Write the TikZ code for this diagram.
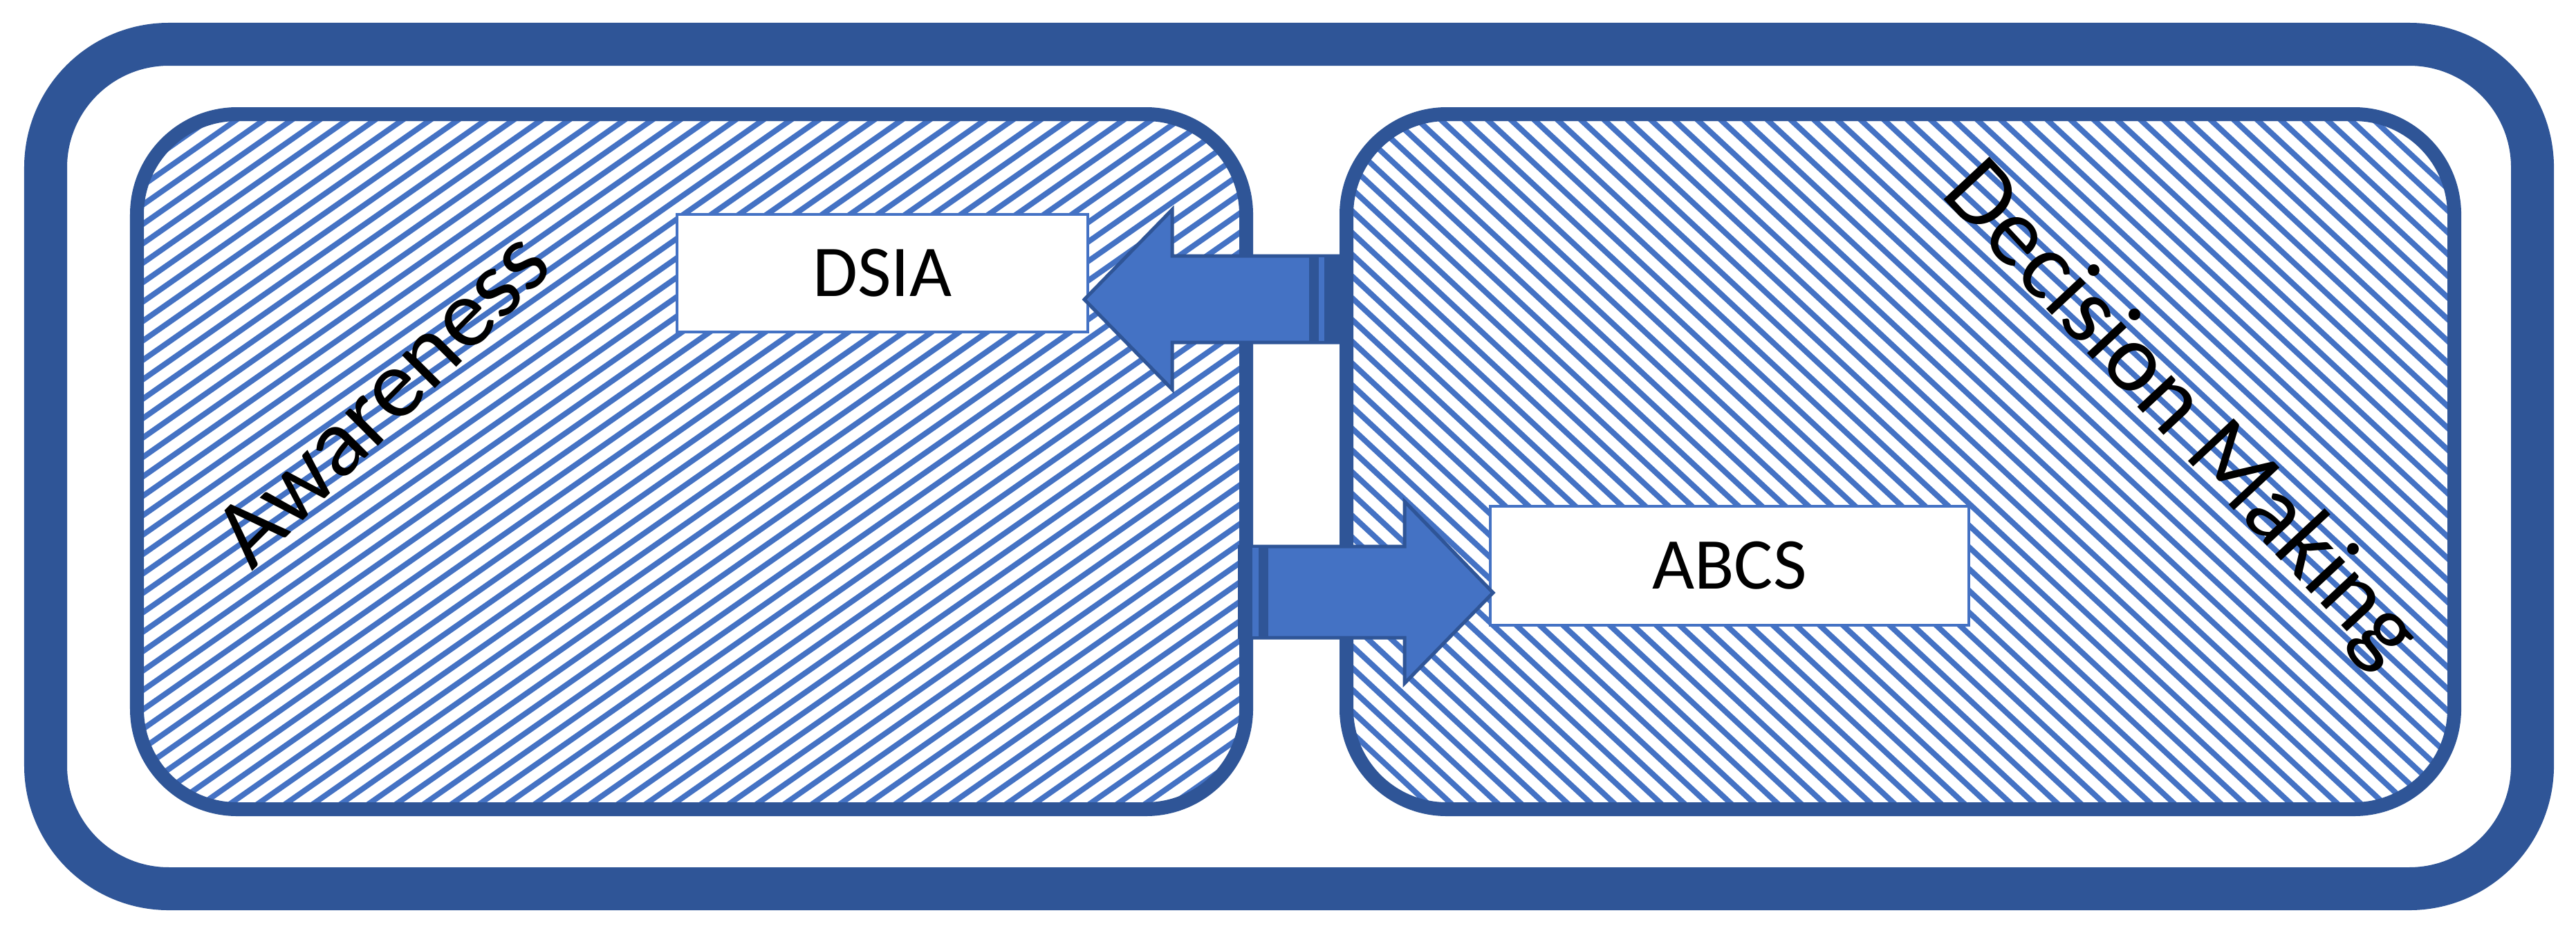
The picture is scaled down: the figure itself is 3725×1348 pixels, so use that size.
\documentclass[tikz,border=0pt]{standalone}
\usepackage{fontspec}
\setmainfont{Carlito}
\definecolor{dkblue}{HTML}{2F5597}
\definecolor{acblue}{HTML}{4472C4}
\begin{document}
\begin{tikzpicture}[x=0.01cm,y=-0.01cm,
  outerframe/.style={draw=dkblue,line width=6.2mm,rounded corners=17.8mm},
  panel/.style={draw=dkblue,line width=2mm,rounded corners=14.5mm},
  hatchline/.style={acblue,line width=0.8mm},
  labelbox/.style={draw=acblue,fill=white,line width=0.4mm,inner sep=0pt,font=\fontsize{30}{36}\selectfont},
  arrowshape/.style={fill=acblue,draw=dkblue,line width=0.5mm,line join=miter},
  paneltitle/.style={font=\fontsize{40}{48}\selectfont,inner sep=0pt}]
\useasboundingbox (0,0) rectangle (3725,1348);
\fill[white] (0,0) rectangle (3725,1348);
% outer frame
\draw[outerframe] (66,64) rectangle (3662,1285);
% left panel
\begin{scope}
  \clip[rounded corners=14.5mm] (198,165) rectangle (1802,1170);
  \fill[white] (198,165) rectangle (1802,1170);
  \begin{scope}[shift={(1000,667)},rotate=35]
    \foreach \i in {-50,...,50} \draw[hatchline] (-1100,\i*23) -- (1100,\i*23);
  \end{scope}
\end{scope}
\draw[panel] (198,165) rectangle (1802,1170);
% right panel
\begin{scope}
  \clip[rounded corners=14.5mm] (1947,165) rectangle (3549,1170);
  \fill[white] (1947,165) rectangle (3549,1170);
  \begin{scope}[shift={(2748,667)},rotate=-43]
    \foreach \i in {-50,...,50} \draw[hatchline] (-1100,\i*23) -- (1100,\i*23);
  \end{scope}
\end{scope}
\draw[panel] (1947,165) rectangle (3549,1170);
% boxes
\node[labelbox,minimum width=5.93cm,minimum height=1.70cm] (dsia) at (1276,395) {DSIA};
\node[labelbox,minimum width=6.91cm,minimum height=1.71cm] (abcs) at (2501,818) {ABCS};
% panel titles
\node[paneltitle,rotate=45] (aw) at (552,576) {Awareness};
\node[paneltitle,rotate=-47] (dm) at (3152,600) {Decision Making};
% upper arrow (to DSIA)
\coordinate (utip) at (1568,433);
\draw[arrowshape] (1937,370) -- (1695,370) -- (1695,303) -- (utip) -- (1695,563) -- (1695,495) -- (1937,495) -- cycle;
\fill[dkblue] (1893,368) rectangle (1940,497);
\fill[acblue] (1907,372) rectangle (1915,493);
% lower arrow (to ABCS)
\coordinate (ltip) at (2159,857);
\draw[arrowshape] (1800,790) -- (2031,790) -- (2031,725) -- (ltip) -- (2031,988) -- (2031,922) -- (1800,922) -- cycle;
\fill[dkblue] (1790,788) rectangle (1834,924);
\fill[acblue] (1811,792) rectangle (1820,920);
\end{tikzpicture}
\end{document}
